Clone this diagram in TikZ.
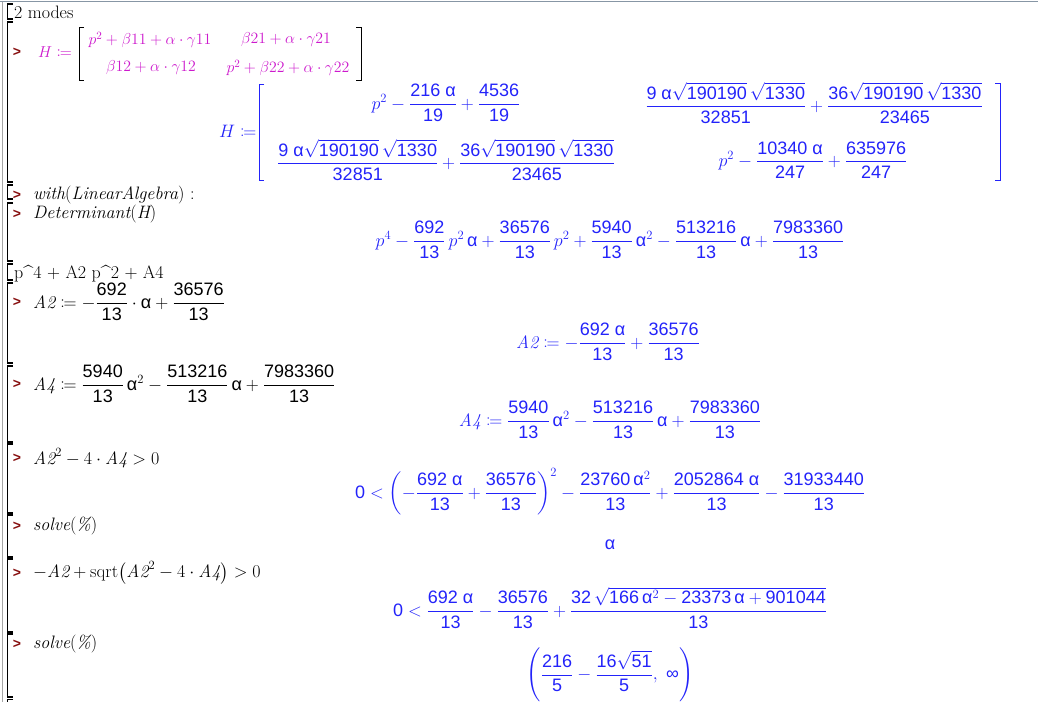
\RequirePackage{fix-cm}
\documentclass[tikz,border=0pt]{standalone}
\usepackage{amsmath}
\usepackage{amssymb}
\usepackage{mathtools}
\usepackage{xcolor}
\usepackage{fontspec}
\setsansfont{Liberation Sans}
\usepackage{tikz}
\usetikzlibrary{positioning}
\definecolor{mapleblue}{RGB}{35,35,250}
\definecolor{maplemag}{RGB}{205,25,205}
\definecolor{promptred}{RGB}{135,15,15}
\definecolor{framegray}{RGB}{135,150,165}
\newcommand{\ns}[1]{\textsf{#1}}
\newcommand{\alf}{\textsf{α}}
\tikzset{
  txt/.style={anchor=west, inner sep=0pt, font=\fontsize{18}{22}\selectfont},
  inp/.style={anchor=west, inner sep=0pt, font=\fontsize{18}{22}\selectfont},
  outp/.style={inner sep=0pt, text=mapleblue, font=\fontsize{18}{22}\selectfont},
  magp/.style={inner sep=0pt, text=maplemag, font=\fontsize{15.8}{19}\selectfont},
  prm/.style={inner sep=0pt, text=promptred, font=\fontsize{14}{16}\selectfont\sffamily\bfseries},
  grp/.style={line width=1.3pt},
  brk/.style={line width=0.9pt}
}
\begin{document}
\begin{tikzpicture}[x=1pt,y=-1pt]
\useasboundingbox (0,0) rectangle (1038,702);
\fill[white] (0,0) rectangle (1038,702);
\draw[framegray, line width=1.6pt] (0,1.5) -- (1038,1.5);
\draw[gray!70, line width=1pt] (2,2) -- (2,702);
% execution groups
\foreach \t/\b in {4/19, 22/182, 185/199, 203/261, 264/280, 283/363, 366/442,
                   444/513, 515/557, 559/632, 634/697}
  \draw[grp] (13,\t) -- (7.5,\t) -- (7.5,\b) -- (13,\b);
\draw[grp] (13,699.5) -- (7.5,699.5) -- (7.5,702);
% prompts
\foreach \y/\n in {52/1, 195/2, 214/3, 302/4, 384/5, 458/6, 526/7, 573/8, 644/9}
  \node[prm] (prm\n) at (17,\y) {>};
% text lines
\node[txt] (modes) at (14,12) {2 modes};
\node[txt] (poly) at (14,274) {p\textasciicircum 4 + A2 p\textasciicircum 2 + A4};
% input H
\node[magp, anchor=west] (Hin) at (38,52) {$H\coloneqq$};
\node[magp] (h11) at (150,40) {$p^{2}+\beta11+\alpha\cdot\gamma11$};
\node[magp] (h12) at (286,40) {$\beta21+\alpha\cdot\gamma21$};
\node[magp] (h21) at (151,68) {$\beta12+\alpha\cdot\gamma12$};
\node[magp] (h22) at (288,68) {$p^{2}+\beta22+\alpha\cdot\gamma22$};
\draw[brk] (84,27) -- (79,27) -- (79,80) -- (84,80);
\draw[brk] (356,27) -- (361,27) -- (361,80) -- (356,80);
% output H
\node[outp, anchor=west] (Hout) at (219,131) {$H\coloneqq$};
\node[outp] (o11) at (446,103) {$p^{2}-\dfrac{\ns{216 α}}{\ns{19}}+\dfrac{\ns{4536}}{\ns{19}}$};
\node[outp] (o12) at (814,103) {$\dfrac{\ns{9 α}\sqrt{\ns{190190}}\,\sqrt{\ns{1330}}}{\ns{32851}}+\dfrac{\ns{36}\sqrt{\ns{190190}}\,\sqrt{\ns{1330}}}{\ns{23465}}$};
\node[outp] (o21) at (446,160) {$\dfrac{\ns{9 α}\sqrt{\ns{190190}}\,\sqrt{\ns{1330}}}{\ns{32851}}+\dfrac{\ns{36}\sqrt{\ns{190190}}\,\sqrt{\ns{1330}}}{\ns{23465}}$};
\node[outp] (o22) at (813,160) {$p^{2}-\dfrac{\ns{10340 α}}{\ns{247}}+\dfrac{\ns{635976}}{\ns{247}}$};
\draw[mapleblue, brk] (264,84) -- (259,84) -- (259,180) -- (264,180);
\draw[mapleblue, brk] (995,83) -- (1000,83) -- (1000,180) -- (995,180);
% with / determinant
\node[inp] (with) at (33,195) {\itshape with\upshape(\itshape LinearAlgebra\upshape) :};
\node[inp] (det) at (33,214) {\itshape Determinant\upshape(\itshape H\upshape)};
\node[outp] (detout) at (610,240) {$p^{4}-\dfrac{\ns{692}}{\ns{13}}\,p^{2}\,\alf+\dfrac{\ns{36576}}{\ns{13}}\,p^{2}+\dfrac{\ns{5940}}{\ns{13}}\,\alf^{2}-\dfrac{\ns{513216}}{\ns{13}}\,\alf+\dfrac{\ns{7983360}}{\ns{13}}$};
% A2 and A4
\node[inp] (A2in) at (33,302) {$\mathit{A2}\coloneqq-\dfrac{\ns{692}}{\ns{13}}\cdot\alf+\dfrac{\ns{36576}}{\ns{13}}$};
\node[outp] (A2out) at (608,342) {$\mathit{A2}\coloneqq-\dfrac{\ns{692 α}}{\ns{13}}+\dfrac{\ns{36576}}{\ns{13}}$};
\node[inp] (A4in) at (33,384) {$\mathit{A4}\coloneqq\dfrac{\ns{5940}}{\ns{13}}\,\alf^{2}-\dfrac{\ns{513216}}{\ns{13}}\,\alf+\dfrac{\ns{7983360}}{\ns{13}}$};
\node[outp] (A4out) at (610,420) {$\mathit{A4}\coloneqq\dfrac{\ns{5940}}{\ns{13}}\,\alf^{2}-\dfrac{\ns{513216}}{\ns{13}}\,\alf+\dfrac{\ns{7983360}}{\ns{13}}$};
% discriminant
\node[inp] (discin) at (33,458) {$\mathit{A2}^{2}-4\cdot\mathit{A4}>0$};
\node[outp] (discout) at (610,492) {$\ns{0}<\left(-\dfrac{\ns{692 α}}{\ns{13}}+\dfrac{\ns{36576}}{\ns{13}}\right)^{2}-\dfrac{\ns{23760}\,\alf^{2}}{\ns{13}}+\dfrac{\ns{2052864 α}}{\ns{13}}-\dfrac{\ns{31933440}}{\ns{13}}$};
\node[inp] (solve1) at (33,526) {\itshape solve\upshape(\itshape\%\upshape)};
\node[outp] (sol1) at (610,545) {\alf};
% root
\node[inp] (rootin) at (33,573) {$-\mathit{A2}+\mathrm{sqrt}\bigl(\mathit{A2}^{2}-4\cdot\mathit{A4}\bigr)>0$};
\node[outp] (rootout) at (610,608) {$\ns{0}<\dfrac{\ns{692 α}}{\ns{13}}-\dfrac{\ns{36576}}{\ns{13}}+\dfrac{\ns{32}\,\sqrt{\ns{166}\,\alf^{2}-\ns{23373}\,\alf+\ns{901044}}}{\ns{13}}$};
\node[inp] (solve2) at (33,644) {\itshape solve\upshape(\itshape\%\upshape)};
\node[outp] (sol2) at (610,675) {$\left(\dfrac{\ns{216}}{\ns{5}}-\dfrac{\ns{16}\sqrt{\ns{51}}}{\ns{5}},\ \ns{∞}\right)$};
\end{tikzpicture}
\end{document}
